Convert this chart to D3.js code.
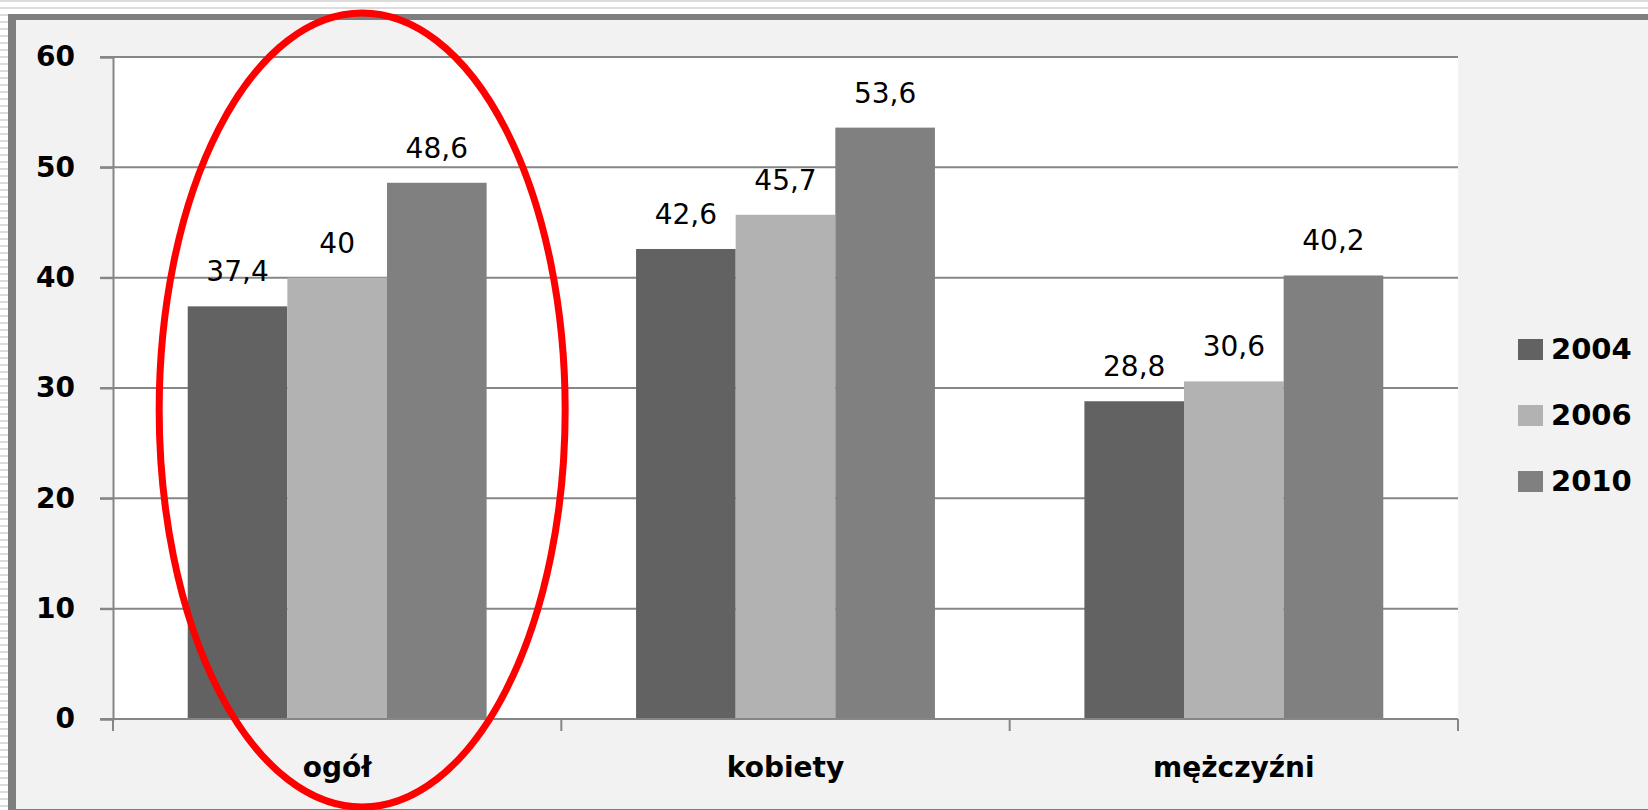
<!DOCTYPE html>
<html>
<head>
<meta charset="utf-8">
<script src="https://cdn.jsdelivr.net/npm/d3@7"></script>
<style>
html,body{margin:0;padding:0;background:#fff;}
svg{display:block;}
</style>
</head>
<body>
<script>
const categories = ["ogół", "kobiety", "mężczyźni"];
const series = ["2004", "2006", "2010"];
const values2004 = [37.4, 42.6, 28.8];
const values2006 = [40, 45.7, 30.6];
const values2010 = [48.6, 53.6, 40.2];
const yTicks = [0, 10, 20, 30, 40, 50, 60];
const colors = ["#626262", "#b2b2b2", "#808080"];

const W = 1648, H = 810;
const svg = d3.select("body").append("svg").attr("width", W).attr("height", H);

// slide background stripes
const defs = svg.append("defs");
const pat = defs.append("pattern").attr("id", "stripes").attr("patternUnits", "userSpaceOnUse")
  .attr("width", 8).attr("height", 7);
pat.append("rect").attr("width", 8).attr("height", 7).attr("fill", "#ffffff");
pat.append("rect").attr("y", 0).attr("width", 8).attr("height", 2).attr("fill", "#dcdcdc");
svg.append("rect").attr("width", W).attr("height", H).attr("fill", "url(#stripes)");

// chart frame
svg.append("rect").attr("x", 8).attr("y", 14).attr("width", W - 8).attr("height", H - 14).attr("fill", "#7f7f7f");
svg.append("rect").attr("x", 16).attr("y", 20).attr("width", W - 16).attr("height", 789 - 0).attr("fill", "#f2f2f2");

const plot = {left: 113, right: 1458, top: 57, bottom: 719};
svg.append("rect").attr("x", plot.left).attr("y", plot.top)
  .attr("width", plot.right - plot.left).attr("height", plot.bottom - plot.top).attr("fill", "#ffffff");

const y = d3.scaleLinear().domain([0, 60]).range([plot.bottom, plot.top]);
const x0 = d3.scaleBand().domain(categories).range([plot.left, plot.right]).paddingInner(0).paddingOuter(0);
const x1 = d3.scaleBand().domain(series).range([0, x0.bandwidth()]).paddingInner(0).paddingOuter(0.75);

// gridlines
svg.append("g").selectAll("line").data(yTicks.filter(t => t > 0)).join("line")
  .attr("x1", plot.left - 13).attr("x2", plot.right)
  .attr("y1", d => y(d)).attr("y2", d => y(d))
  .attr("stroke", "#868686").attr("stroke-width", 2);

// bars
const data = categories.map((c, i) => ({cat: c, vals: [values2004[i], values2006[i], values2010[i]]}));
const groups = svg.append("g").selectAll("g").data(data).join("g")
  .attr("transform", d => `translate(${x0(d.cat)},0)`);
groups.selectAll("rect").data(d => d.vals.map((v, j) => ({s: series[j], v, j}))).join("rect")
  .attr("x", d => x1(d.s)).attr("width", x1.bandwidth())
  .attr("y", d => y(d.v)).attr("height", d => y(0) - y(d.v))
  .attr("fill", d => colors[d.j]);
groups.selectAll("text").data(d => d.vals.map((v, j) => ({s: series[j], v, j}))).join("text")
  .attr("x", d => x1(d.s) + x1.bandwidth() / 2).attr("y", d => y(d.v) - 25)
  .attr("text-anchor", "middle")
  .attr("font-family", "DejaVu Sans").attr("font-size", 28).attr("fill", "#000")
  .text(d => String(d.v).replace(".", ","));

// y axis
const yAxis = d3.axisLeft(y).tickValues(yTicks).tickSize(13).tickPadding(25);
const gy = svg.append("g").attr("transform", `translate(${plot.left},0)`).call(yAxis);
gy.select(".domain").attr("stroke", "#868686").attr("stroke-width", 2);
gy.selectAll(".tick line").attr("stroke", "#868686").attr("stroke-width", 2);
gy.selectAll(".tick text").attr("font-family", "DejaVu Sans").attr("font-weight", "bold")
  .attr("font-size", 28).attr("fill", "#000");

// x axis
const gx = svg.append("g").attr("transform", `translate(0,${plot.bottom})`)
  .call(d3.axisBottom(x0).tickSize(0).tickPadding(40));
gx.select(".domain").remove();
svg.append("line").attr("x1", plot.left - 13).attr("x2", plot.right)
  .attr("y1", plot.bottom).attr("y2", plot.bottom).attr("stroke", "#868686").attr("stroke-width", 2);
const bounds = categories.map(c => x0(c)).concat([x0(categories[categories.length - 1]) + x0.bandwidth()]);
svg.append("g").selectAll("line").data(bounds).join("line")
  .attr("x1", d => d).attr("x2", d => d).attr("y1", plot.bottom).attr("y2", plot.bottom + 12)
  .attr("stroke", "#868686").attr("stroke-width", 2);
gx.selectAll(".tick text").attr("font-family", "DejaVu Sans").attr("font-weight", "bold")
  .attr("font-size", 28).attr("fill", "#000").attr("dy", null).attr("y", 58);

// legend
const leg = svg.append("g").attr("transform", "translate(1518,339)");
const li = leg.selectAll("g").data(series).join("g").attr("transform", (d, i) => `translate(0,${i * 66})`);
li.append("rect").attr("width", 25).attr("height", 21).attr("fill", (d, i) => colors[i]);
li.append("text").attr("x", 33).attr("y", 20)
  .attr("font-family", "DejaVu Sans").attr("font-weight", "bold").attr("font-size", 29).attr("fill", "#000")
  .text(d => d);

// red ellipse annotation
svg.append("ellipse")
  .attr("cx", x0("ogół") + x0.bandwidth() / 2 + 25).attr("cy", 410)
  .attr("rx", 203).attr("ry", 397)
  .attr("fill", "none").attr("stroke", "#ff0000").attr("stroke-width", 7);
</script>
</body>
</html>
